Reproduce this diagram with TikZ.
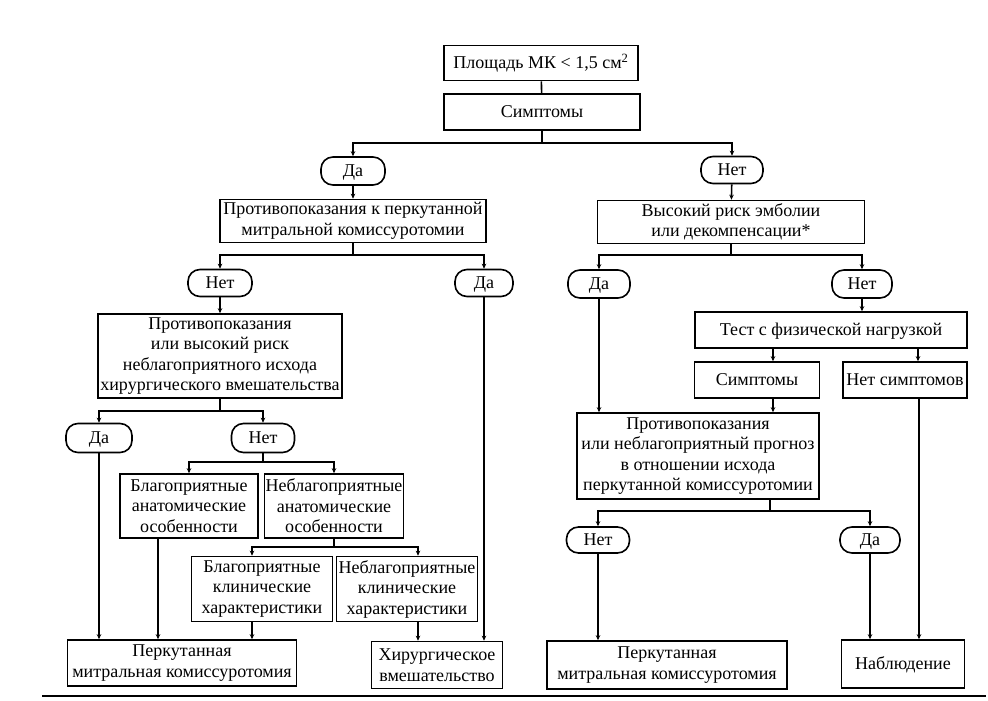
\documentclass[tikz,border=0pt]{standalone}
\usepackage{fontspec}
\setmainfont{Liberation Serif}
\usetikzlibrary{arrows.meta}
\begin{document}
\begin{tikzpicture}[x=1pt,y=-1pt,
  box/.style={draw, line width=1.6pt, align=center, inner sep=1pt, font=\fontsize{18}{20.5}\selectfont},
  one/.style={text height=13.5pt, text depth=2pt},
  pill/.style={box, one, rounded corners=12pt},
  wire/.style={line width=1.6pt},
  arr/.style={wire, -{Stealth[length=5pt,width=4.5pt]}}]
\useasboundingbox (0,0) rectangle (988,701);
% nodes
\node[box, one, minimum width=194pt, minimum height=35pt] (top) at (541,63) {Площадь МК < 1,5 см\textsuperscript{2}};
\node[box, one, minimum width=196pt, minimum height=36pt] (sym) at (542,112) {Симптомы};
\node[pill, minimum width=64pt, minimum height=28pt] (da1) at (353,171) {Да};
\node[pill, minimum width=62pt, minimum height=27pt] (net1) at (732,170) {Нет};
\node[box, minimum width=266pt, minimum height=43pt] (pk) at (353,221) {Противопоказания к перкутанной\\митральной комиссуротомии};
\node[box, minimum width=267pt, minimum height=43pt] (vr) at (731,222) {Высокий риск эмболии\\или декомпенсации*};
\node[pill, minimum width=64pt, minimum height=27pt] (net2) at (220,283) {Нет};
\node[pill, minimum width=58pt, minimum height=27pt] (da2) at (484,283) {Да};
\node[box, minimum width=244pt, minimum height=84pt] (pv) at (220,356) {Противопоказания\\или высокий риск\\неблагоприятного исхода\\хирургического вмешательства};
\node[pill, minimum width=66pt, minimum height=29pt] (da3) at (99,438) {Да};
\node[pill, minimum width=63pt, minimum height=29pt] (net3) at (263,438) {Нет};
\node[box, minimum width=138pt, minimum height=64pt] (ba) at (189,506) {Благоприятные\\анатомические\\особенности};
\node[box, minimum width=138pt, minimum height=64pt] (na) at (334,506) {Неблагоприятные\\анатомические\\особенности};
\node[box, minimum width=141pt, minimum height=65pt] (bk) at (262,589) {Благоприятные\\клинические\\характеристики};
\node[box, minimum width=141pt, minimum height=65pt] (nk) at (407,589) {Неблагоприятные\\клинические\\характеристики};
\node[box, minimum width=229pt, minimum height=46pt] (pmk1) at (182,663) {Перкутанная\\митральная комиссуротомия};
\node[box, minimum width=131pt, minimum height=47pt] (hv) at (437,665) {Хирургическое\\вмешательство};
\node[pill, minimum width=62pt, minimum height=28pt] (da4) at (599,284) {Да};
\node[pill, minimum width=60pt, minimum height=28pt] (net4) at (862,284) {Нет};
\node[box, one, minimum width=272pt, minimum height=36pt] (test) at (831,330) {Тест с физической нагрузкой};
\node[box, one, minimum width=125pt, minimum height=36pt] (sym2) at (757,380) {Симптомы};
\node[box, one, minimum width=124pt, minimum height=36pt] (ns) at (905,380) {Нет симптомов};
\node[box, minimum width=242pt, minimum height=86pt] (pn) at (698,456) {Противопоказания\\или неблагоприятный прогноз\\в отношении исхода\\перкутанной комиссуротомии};
\node[pill, minimum width=63pt, minimum height=26pt] (net5) at (598,540) {Нет};
\node[pill, minimum width=60pt, minimum height=26pt] (da5) at (870,540) {Да};
\node[box, minimum width=240pt, minimum height=48pt] (pmk2) at (667,665) {Перкутанная\\митральная комиссуротомия};
\node[box, one, minimum width=123pt, minimum height=48pt] (nab) at (903,664) {Наблюдение};
% branch points
\coordinate (b1) at (542,143);
\coordinate (b2) at (353,255);
\coordinate (b3) at (220,411);
\coordinate (b4) at (263,462);
\coordinate (b5) at (334,547);
\coordinate (b6) at (731,255);
\coordinate (b7) at (770,511);
% connectors
\draw[wire] (top) -- (sym);
\draw[wire] (sym) -- (b1);
\draw[arr] (b1) -| (da1.north);
\draw[arr] (b1) -| (net1.north);
\draw[arr] (da1) -- (pk);
\draw[arr] (net1) -- (vr);
\draw[wire] (pk) -- (b2);
\draw[arr] (b2) -| (net2.north);
\draw[arr] (b2) -| (da2.north);
\draw[arr] (net2) -- (pv);
\draw[arr] (da2.south) -- (da2.south |- hv.north);
\draw[wire] (pv) -- (b3);
\draw[arr] (b3) -| (da3.north);
\draw[arr] (b3) -| (net3.north);
\draw[arr] (da3.south) -- (da3.south |- pmk1.north);
\draw[wire] (net3) -- (b4);
\draw[arr] (b4) -| (ba.north);
\draw[arr] (b4) -| (na.north);
\draw[arr] ([xshift=-31pt]ba.south) -- ([xshift=-31pt]ba.south |- pmk1.north);
\draw[wire] (na) -- (b5);
\draw[arr] (b5) -| ([xshift=-10pt]bk.north);
\draw[arr] (b5) -| ([xshift=11pt]nk.north);
\draw[arr] ([xshift=-10pt]bk.south) -- ([xshift=-10pt]bk.south |- pmk1.north);
\draw[arr] ([xshift=11pt]nk.south) -- ([xshift=11pt]nk.south |- hv.north);
\draw[wire] (vr) -- (b6);
\draw[arr] (b6) -| (da4.north);
\draw[arr] (b6) -| (net4.north);
\draw[arr] (net4.south) -- (net4.south |- test.north);
\draw[arr] (sym2.north |- test.south) ++(16pt,0) coordinate (t1) -- (t1 |- sym2.north);
\draw[arr] (ns.north |- test.south) ++(13pt,0) coordinate (t2) -- (t2 |- ns.north);
\draw[arr] ([xshift=16pt]sym2.south) -- ([xshift=16pt]sym2.south |- pn.north);
\draw[arr] (da4.south) -- (da4.south |- pn.north);
\draw[wire] (b7 |- pn.south) -- (b7);
\draw[arr] (b7) -| (net5.north);
\draw[arr] (b7) -| (da5.north);
\draw[arr] (net5.south) -- (net5.south |- pmk2.north);
\draw[arr] (da5.south) -- (da5.south |- nab.north);
\draw[arr] ([xshift=14pt]ns.south) -- ([xshift=14pt]ns.south |- nab.north);
% rule at bottom
\draw[line width=2pt] (42,696) -- (986,696);
\end{tikzpicture}
\end{document}
